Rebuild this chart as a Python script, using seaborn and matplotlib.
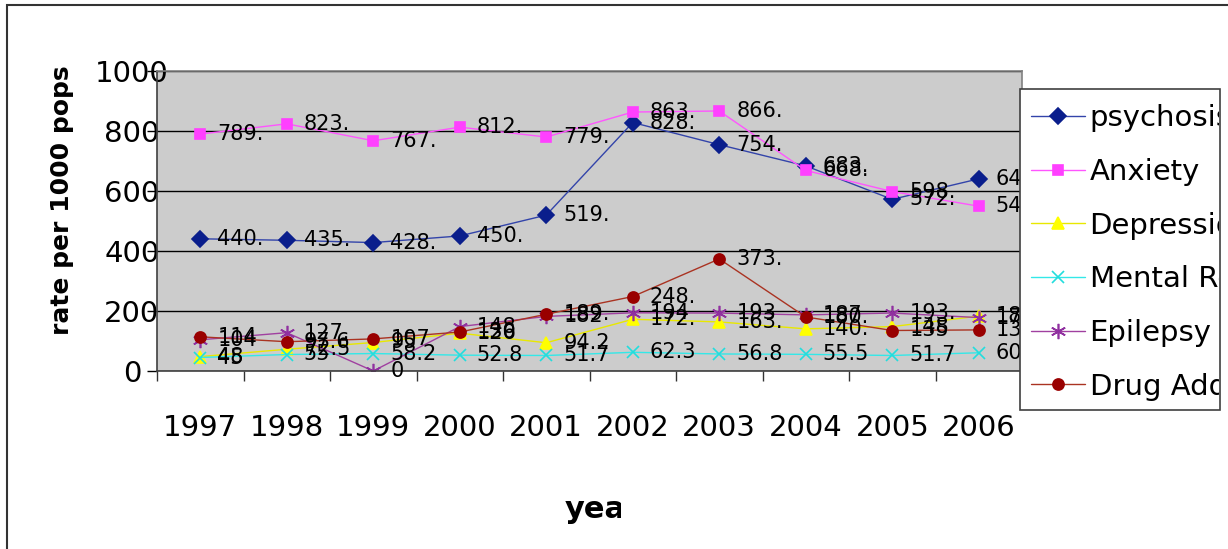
import matplotlib
matplotlib.use("Agg")
import matplotlib.pyplot as plt
from matplotlib.patches import Rectangle
from matplotlib.transforms import Bbox
import seaborn as sns
import numpy as np

# rates per 1000 population
years = ["1997", "1998", "1999", "2000", "2001", "2002", "2003", "2004", "2005", "2006"]
psychosis = [440.7, 435.7, 428.1, 450.2, 519.6, 828.3, 754.4, 683.7, 572.2, 640.5]
anxiety = [789.7, 823.9, 767.5, 812.8, 779.9, 863.2, 866.7, 668.5, 598.2, 549.4]
depression = [48, 72.5, 95, 126, 94.2, 172.4, 163.6, 140.5, 148, 183]
mental_ret = [45, 55, 58.2, 52.8, 51.7, 62.3, 56.8, 55.5, 51.7, 60.8]
epilepsy = [104, 127.7, 0, 148, 182, 194, 193, 187, 193.2, 178]
drug_add = [114, 97.6, 107, 130, 189.2, 248.2, 373.5, 180.1, 135, 137]

series_names = ["psychosis", "Anxiety", "Depression", "Mental Retardation", "Epilepsy", "Drug Addiction"]
series_vals = [psychosis, anxiety, depression, mental_ret, epilepsy, drug_add]

W, H = 1228, 549

sns.set_theme(style="white")
plt.rcParams["font.family"] = ["DejaVu Sans"]
plt.rcParams["text.color"] = "black"

fig = plt.figure(figsize=(W / 100, H / 100), dpi=100)
fig.patch.set_facecolor("white")

# outer chart border (right and bottom run off the picture)
fig.add_artist(Rectangle((7 / W, -0.1), 1.2, 1.1 - 5 / H, transform=fig.transFigure,
                         fill=False, edgecolor="#333333", lw=1.5, zorder=0))

ax = fig.add_axes([157 / W, 1 - 371 / H, 865 / W, 300 / H])
ax.set_facecolor("#CCCCCC")

styles = [
    # line colour, marker, marker colour, size
    ("#3344AA", "D", "#0A1E8C", 8),
    ("#FF55FF", "s", "#FF40FF", 7),
    ("#E8E800", "^", "#FFFF00", 9),
    ("#33E8E8", "x", "#22DDDD", 9),
    ("#A040A0", (6, 2, 0), "#9030A0", 11),
    ("#AA3322", "o", "#990000", 8),
]

x = np.arange(len(years))
for name, vals, (lc, mk, mc, ms) in zip(series_names, series_vals, styles):
    sns.lineplot(x=x, y=vals, ax=ax, color=lc, lw=1, marker=mk, markersize=ms,
                 markerfacecolor=mc, markeredgecolor=mc, markeredgewidth=1.2,
                 label=name, legend=False)

ax.set_xlim(-0.5, len(years) - 0.5)
ax.set_ylim(0, 1000)
ax.set_yticks([0, 200, 400, 600, 800, 1000])
ax.set_xticks(x)
ax.set_xticklabels(years)
ax.set_xticks(np.arange(-0.5, len(years), 1), minor=True)
ax.set_xlabel("")
ax.set_ylabel("")

ax.tick_params(axis="x", which="major", length=0, pad=31, labelsize=21, colors="black")
ax.tick_params(axis="x", which="minor", length=7, width=1, direction="out", bottom=True, color="#333333")
ax.tick_params(axis="y", which="major", length=7, width=1, direction="out", left=True,
               pad=11, labelsize=21, colors="black")
plt.setp(ax.get_yticklabels(), ha="center")

ax.yaxis.grid(True, color="black", lw=1)
ax.xaxis.grid(False)
ax.set_axisbelow(True)
for side in ["left", "bottom"]:
    ax.spines[side].set_color("#404040")
    ax.spines[side].set_linewidth(1.2)
for side in ["top", "right"]:
    ax.spines[side].set_color("#808080")
    ax.spines[side].set_linewidth(1.2)

# data labels, clipped to a narrow box like the original
for vals in series_vals:
    for i, v in enumerate(vals):
        px, py = ax.transData.transform((i, v))
        t = fig.text((px + 17) / W, py / H, f"{v:g}", fontsize=15, ha="left", va="center",
                     color="black", zorder=3)
        t.set_clip_box(Bbox.from_extents(px + 17, 0, px + 63, H))
        t.set_clip_on(True)

# axis titles
fig.text(62 / W, 1 - 200 / H, "rate per 1000 pops", rotation=90, ha="center", va="center",
         fontsize=18, fontweight="bold", color="black")
xt = fig.text(565 / W, 1 - 510 / H, "year", ha="left", va="center", fontsize=22,
              fontweight="bold", color="black")
xt.set_clip_box(Bbox.from_extents(0, 0, 621, H))
xt.set_clip_on(True)

# legend with its own frame, texts cut at the frame edge
fig.add_artist(Rectangle((1020 / W, 1 - 410 / H), 200 / W, 321 / H, transform=fig.transFigure,
                         facecolor="white", edgecolor="#404040", lw=1.2, zorder=4))
handles, labels = ax.get_legend_handles_labels()
leg = fig.legend(handles, labels, loc="upper left", bbox_to_anchor=(1016 / W, 1 - 89 / H),
                 frameon=False, fontsize=21, handlelength=1.85, handletextpad=0.15,
                 labelspacing=0.88, borderpad=0.52, borderaxespad=0, labelcolor="black")
leg.set_zorder(5)
for t in leg.get_texts():
    t.set_clip_box(Bbox.from_extents(0, 0, 1219, H))
    t.set_clip_on(True)

fig.savefig("out.png", dpi=100)
